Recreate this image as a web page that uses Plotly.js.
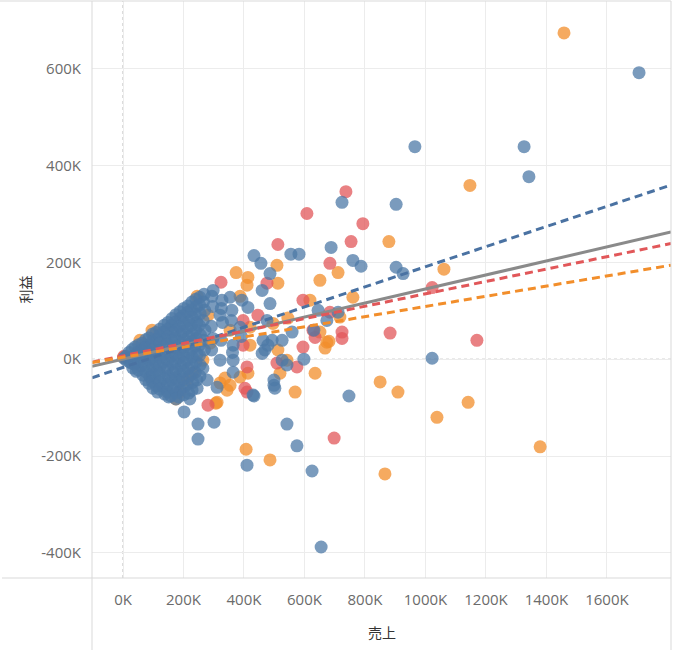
<!DOCTYPE html>
<html>
<head>
<meta charset="utf-8">
<script src="https://cdn.plot.ly/plotly-3.0.1.min.js"></script>
<style>
  body { margin: 0; background: #fff; }
  #chart { width: 680px; height: 653px; }
</style>
</head>
<body>
<div id="chart"></div>
<script>
// values in thousands (K)
const blueX = [
  1706, 965, 1326, 1342, 724, 903, 688, 433, 456, 555, 582, 760, 787, 903, 926, 1022, 747, 655,
  625, 575, 542, 410, 301, 248, 248, 202, 433, 499, 499, 598, 645, 711, 674, 631, 559, 463, 493,
  526, 469, 526, 542, 502, 430, 364, 364, 321, 311, 387, 476, 364, 321, 298, 354, 460, 413, 486,
  486, 221, 460, 479, 245, 278,
  3, 20, 22, 40, 42, 38, 44, 63, 61, 65, 60, 66, 86, 88, 84, 87, 85, 89, 86,
  109, 111, 107, 110, 108, 112, 106, 110, 114,
  136, 134, 138, 135, 137, 133, 139, 136, 132, 138,
  162, 160, 164, 161, 165, 159, 163, 166, 160, 164, 158,
  188, 190, 186, 191, 187, 189, 185, 192, 188, 186, 190, 184,
  215, 213, 217, 212, 216, 214, 218, 211, 215, 219, 213, 217,
  241, 243, 239, 244, 240, 242, 238, 245, 241, 239, 244,
  268, 266, 270, 265, 271, 267, 269, 264,
  294, 296, 292, 297, 293, 327, 325, 329, 324, 360, 358, 362, 393, 391,
  10, 11, 30, 31, 29, 32, 52, 50, 53, 51,
  75, 74, 76, 73, 77, 75, 98, 97, 99, 96, 100, 98, 97, 99,
  122, 121, 123, 120, 124, 122, 121, 123, 122,
  149, 148, 150, 147, 151, 149, 148, 150, 149, 147, 151,
  175, 174, 176, 173, 177, 175, 174, 176, 175, 173, 177, 175,
  201, 200, 202, 199, 203, 201, 200, 202, 201, 199, 203, 201,
  228, 227, 229, 226, 230, 228, 227, 229, 228, 226, 230, 228,
  254, 253, 255, 252, 256, 254, 253, 255, 254
];
const blueY = [
  592, 439, 439, 377, 324, 320, 231, 214, 198, 217, 217, 204, 192, 190, 177, 2, -76, -388,
  -231, -179, -134, -219, -130, -165, -134, -109, -76, -54, -43, 0, 101, 97, 80, 60, 56, 39, 39,
  39, 19, -2, -12, -60, -74, -27, -2, -2, -58, 66, 80, 29, 91, 142, 128, 142, 107, 115,
  177, -82, 12, 29, -60, -43,
  2, 14, -6, 25, 8, -10, -25, 33, 19, 2, -14, -33, 44, 29, 14, -2, -19, -36, -50,
  55, 41, 27, 10, -6, -23, -39, -55, -68,
  70, 56, 42, 27, 10, -6, -23, -40, -56, -72,
  84, 70, 56, 39, 23, 6, -10, -27, -43, -60, -76,
  98, 85, 68, 52, 35, 19, 2, -14, -31, -47, -64, -78,
  110, 97, 80, 64, 47, 31, 14, -2, -19, -35, -52, -70,
  124, 109, 93, 76, 60, 43, 27, 10, -6, -27, -43,
  134, 118, 101, 80, 60, 39, 19, -19,
  130, 109, 68, 43, 19, 122, 105, 76, 39, 101, 80, 14, 122, 47,
  6, -2, 20, 5, -8, -18, 30, 14, -5, -22,
  40, 24, 7, -10, -27, -42, 52, 36, 19, 2, -15, -30, -46, -60,
  62, 48, 34, 18, 2, -15, -31, -47, -62,
  76, 62, 47, 31, 15, -2, -18, -35, -51, -67, -78,
  92, 77, 60, 44, 27, 10, -6, -22, -39, -55, -70, -82,
  105, 90, 73, 57, 40, 24, 8, -8, -25, -41, -57, -73,
  118, 102, 86, 70, 52, 36, 20, 4, -12, -30, -48, -64,
  128, 112, 94, 70, 50, 30, 8, -12, -35
];
const orangeX = [
  1458, 1147, 879, 1061, 711, 651, 374, 760, 850, 909, 1141, 1038, 1379, 866, 407, 486, 635,
  569, 307, 175, 512, 509, 410, 545, 717, 651, 674, 668, 512, 542, 519, 413, 387, 337, 321, 311,
  420, 496, 420, 354, 281, 387, 354, 212, 231, 264, 288, 344, 245, 96, 56, 2, 188, 413, 618, 681
];
const orangeY = [
  674, 359, 243, 186, 179, 163, 179, 128, -47, -68, -89, -120, -181, -237, -186, -208, -29,
  -68, -91, -82, 157, 194, 153, 85, 87, 56, 35, 23, 19, -2, -29, -29, -37, -39, -49, -89,
  66, 74, 29, 60, 91, 130, -54, -43, -29, -2, 33, -64, 130, 60, 39, 4, -68, 169, 122, 37
];
const redX = [
  737, 608, 793, 754, 512, 684, 1022, 883, 1170, 698, 281, 324, 476, 446, 684, 724, 724, 635,
  595, 509, 575, 403, 410, 410, 397, 3, 595, 397, 628
];
const redY = [
  346, 301, 280, 243, 237, 198, 148, 54, 39, -163, -95, 159, 157, 91, 97, 56, 43, 45,
  25, -8, -16, -60, -68, -16, 29, 6, 122, 80, 60
];

// trend lines: overall, blue, red, orange
const trendSlope     = [0.145, 0.208, 0.128, 0.105];
const trendIntercept = [0, -17, 7, 4];
const trendColor = ['#8a8a8a', '#4a72a2', '#e15759', '#f28e2b'];
const trendDash  = ['solid', '8px,5px', '8px,5px', '8px,5px'];

const xTicks = [0, 200, 400, 600, 800, 1000, 1200, 1400, 1600];
const yTicks = [-400, -200, 0, 200, 400, 600];
const xRange = [-102.5, 1811.7];
const yRange = [-452, 740];

const dot = (c) => ({ color: c, size: 13, opacity: 0.75, line: { width: 0 } });
const traces = [
  { x: orangeX, y: orangeY, mode: 'markers', marker: dot('#f28e2b'), hoverinfo: 'skip' },
  { x: redX, y: redY, mode: 'markers', marker: dot('#e15759'), hoverinfo: 'skip' },
  { x: blueX, y: blueY, mode: 'markers', marker: dot('#4e79a7'), hoverinfo: 'skip' },
];
trendSlope.forEach((m, i) => {
  traces.push({
    x: xRange, y: xRange.map(v => m * v + trendIntercept[i]),
    mode: 'lines', line: { color: trendColor[i], width: 3, dash: trendDash[i] },
    hoverinfo: 'skip',
  });
});

const tickFont = { family: 'Open Sans, sans-serif', size: 15, color: '#6b6b6b' };
const titleFont = { family: 'Noto Sans CJK JP, sans-serif', size: 14, color: '#333' };
const frame = '#d9d9d9';
const plotH = 577, plotW = 579;

Plotly.newPlot('chart', traces, {
  width: 680, height: 653,
  margin: { l: 92, r: 9, t: 1, b: 75 },
  paper_bgcolor: '#fff', plot_bgcolor: '#fff',
  showlegend: false,
  xaxis: {
    range: xRange, tickvals: xTicks, ticktext: xTicks.map(v => v + 'K'),
    showgrid: true, gridcolor: '#ececec', gridwidth: 1, zeroline: false, showline: false,
    ticks: '', ticklabelstandoff: 11, tickfont: tickFont,
  },
  yaxis: {
    range: yRange, tickvals: yTicks, ticktext: yTicks.map(v => v + 'K'),
    showgrid: true, gridcolor: '#ececec', gridwidth: 1, zeroline: false, showline: false,
    ticks: '', ticklabelstandoff: 10, tickfont: tickFont,
  },
  shapes: [
    { type: 'line', xref: 'x', yref: 'paper', x0: 0, x1: 0, y0: 0, y1: 1,
      line: { color: '#b8b8b8', width: 1, dash: 'dot' }, layer: 'below' },
    { type: 'line', xref: 'paper', yref: 'y', x0: 0, x1: 1, y0: 0, y1: 0,
      line: { color: '#b8b8b8', width: 1, dash: 'dot' }, layer: 'below' },
    { type: 'line', xref: 'paper', yref: 'paper', x0: 0, x1: 0, y0: -72 / plotH, y1: 1,
      line: { color: frame, width: 1 } },
    { type: 'line', xref: 'paper', yref: 'paper', x0: 1, x1: 1, y0: -72 / plotH, y1: 1,
      line: { color: frame, width: 1 } },
    { type: 'line', xref: 'paper', yref: 'paper', x0: -90 / plotW, x1: 1, y0: 0, y1: 0,
      line: { color: frame, width: 1 } },
    { type: 'line', xref: 'paper', yref: 'paper', x0: -92 / plotW, x1: 1, y0: 1, y1: 1,
      line: { color: frame, width: 1 } },
  ],
  annotations: [
    { text: '利益', xref: 'paper', yref: 'paper', x: -68 / plotW, y: 0.5, textangle: -90,
      showarrow: false, font: titleFont, xanchor: 'center', yanchor: 'middle' },
    { text: '売上', xref: 'paper', yref: 'paper', x: 0.5, y: -54 / plotH,
      showarrow: false, font: titleFont, xanchor: 'center', yanchor: 'middle' },
  ],
}, { displayModeBar: false, staticPlot: true });
</script>
</body>
</html>
